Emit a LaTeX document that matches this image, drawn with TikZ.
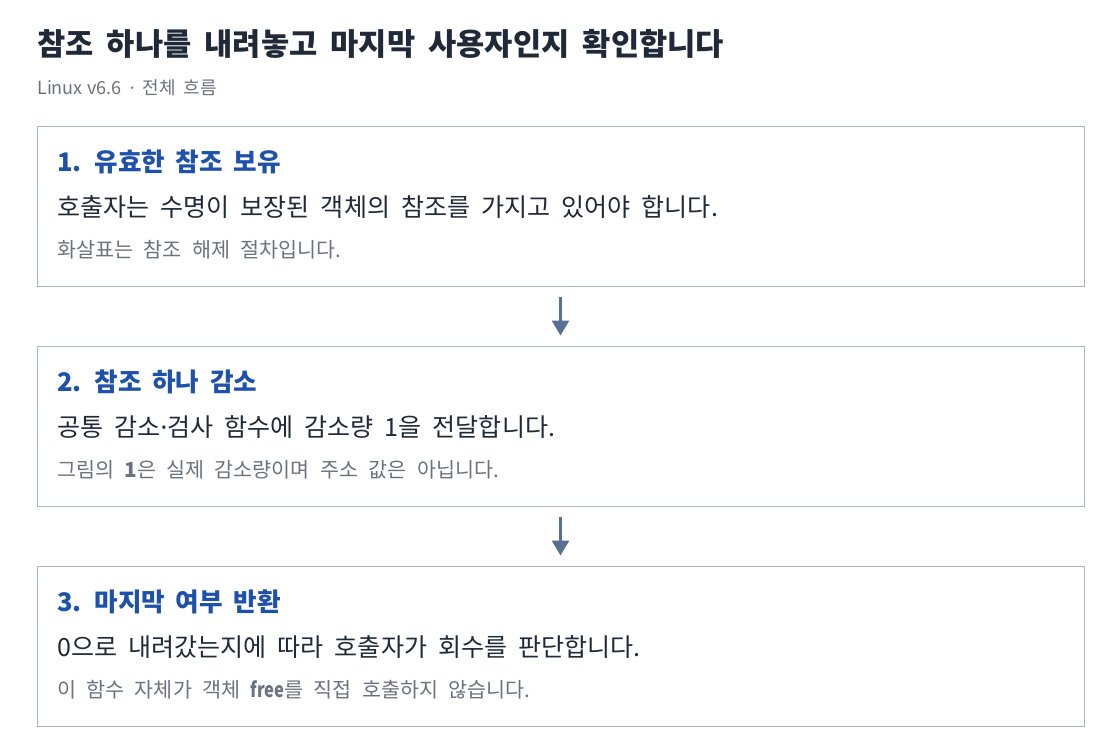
\documentclass[tikz,border=0pt]{standalone}
\usepackage{fontspec}
\setmainfont{Noto Sans CJK KR}
\newfontfamily\latfont{Noto Sans}
\usetikzlibrary{arrows.meta}
\definecolor{titlec}{HTML}{1F2937}
\definecolor{subc}{HTML}{6B7280}
\definecolor{headc}{HTML}{1E52AA}
\definecolor{bodyc}{HTML}{1F2937}
\definecolor{notec}{HTML}{6B7280}
\definecolor{borderc}{HTML}{AAB4C3}
\definecolor{arrowc}{HTML}{5A7090}
\newcommand\wsp[1]{\setlength{\spaceskip}{#1em}}
\newcommand\ttlfont{\fontsize{23}{27}\selectfont\bfseries\wsp{0.43}}
\newcommand\subfont{\fontsize{13.5}{16}\selectfont\wsp{0.45}}
\newcommand\hdfont{\fontsize{19.2}{23}\selectfont\bfseries\wsp{0.42}}
\newcommand\bdfont{\fontsize{18.8}{22}\selectfont\wsp{0.44}}
\newcommand\ntfont{\fontsize{15.5}{18}\selectfont\wsp{0.5}}
\tikzset{
  stepbox/.style={draw=borderc, line width=0.75pt, rectangle, minimum width=785.25pt, minimum height=120pt, inner sep=0pt},
  titletext/.style={anchor=base west, inner sep=0pt, text=titlec, font=\ttlfont},
  subtext/.style={anchor=base west, inner sep=0pt, text=subc, font=\subfont},
  headtext/.style={anchor=base west, inner sep=0pt, text=headc, font=\hdfont},
  bodytext/.style={anchor=base west, inner sep=0pt, text=bodyc, font=\bdfont},
  notetext/.style={anchor=base west, inner sep=0pt, text=notec, font=\ntfont},
  flowarrow/.style={draw=arrowc, line width=2.25pt, -{Triangle[length=11.25pt, width=12.75pt]}, shorten <=7.5pt, shorten >=7.5pt},
}
\begin{document}
\begin{tikzpicture}[x=0.75pt, y=-0.75pt]
\useasboundingbox[fill=white] (0,0) rectangle (1120,754);
\node[titletext] (title) at (37,55) {참조 하나를 내려놓고 마지막 사용자인지 확인합니다};
\node[subtext] (sub) at (37,94) {Linux\hspace{0.25em}v6.6 {\latfont ·} 전체 흐름};

\node[stepbox] (b1) at (560.5,206) {};
\node[stepbox] (b2) at (560.5,426) {};
\node[stepbox] (b3) at (560.5,646) {};

\node[headtext] (h1) at (57,171) {1. 유효한 참조 보유};
\node[bodytext] (d1) at (57,216) {호출자는 수명이 보장된 객체의 참조를 가지고 있어야 합니다.};
\node[notetext] (n1) at (57,257) {화살표는 참조 해제 절차입니다.};

\node[headtext] (h2) at (57,391) {2. 참조 하나 감소};
\node[bodytext] (d2) at (57,436) {공통 감소{\latfont ·}검사 함수에 감소량 1을 전달합니다.};
\node[notetext] (n2) at (57,477) {그림의 \textbf{1}은 실제 감소량이며 주소 값은 아닙니다.};

\node[headtext] (h3) at (57,611) {3. 마지막 여부 반환};
\node[bodytext] (d3) at (57,656) {0으로 내려갔는지에 따라 호출자가 회수를 판단합니다.};
\node[notetext] (n3) at (57,697) {이 함수 자체가 객체 \scalebox{0.8}[1]{\textbf{free}}를 직접 호출하지 않습니다.};

\draw[flowarrow] (b1) -- (b2);
\draw[flowarrow] (b2) -- (b3);
\end{tikzpicture}
\end{document}
